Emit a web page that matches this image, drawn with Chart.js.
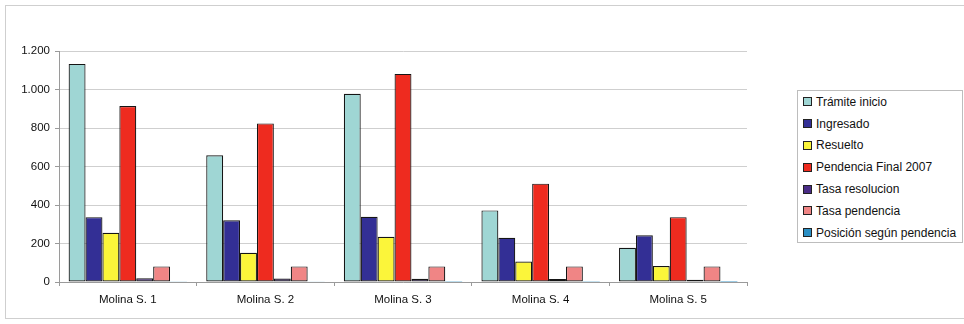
<!DOCTYPE html>
<html>
<head>
<meta charset="utf-8">
<script src="https://cdn.jsdelivr.net/npm/chart.js@4"></script>
<style>
  html, body { margin: 0; padding: 0; background: #fff; }
  body { width: 964px; height: 324px; position: relative; overflow: hidden; font-family: "Liberation Sans", Arial, sans-serif; }
  #frame { position: absolute; left: 5px; top: 5px; width: 970px; height: 314px; border: 1px solid #cfcfcf; box-sizing: border-box; }
  #wrap { position: absolute; left: 0; top: 0; width: 790px; height: 324px; }
  #legend { position: absolute; left: 797px; top: 90px; width: 166px; height: 153px; border: 1px solid #bdbdbd; box-sizing: border-box; padding-top: 0px; }
  .item { height: 21.8px; display: flex; align-items: center; font-size: 12px; color: #111; white-space: nowrap; }
  .sw { width: 7px; height: 7px; border: 1px solid #222; margin: 0 4px 0 5px; flex: none; }
</style>
</head>
<body>
<div id="frame"></div>
<div id="wrap"><canvas id="c"></canvas></div>
<div id="legend"></div>
<script>
const categories = ["Molina S. 1", "Molina S. 2", "Molina S. 3", "Molina S. 4", "Molina S. 5"];
const seriesNames = ["Trámite inicio", "Ingresado", "Resuelto", "Pendencia Final 2007", "Tasa resolucion", "Tasa pendencia", "Posición según pendencia"];
const tramiteInicio = [1133, 658, 978, 372, 178];
const ingresado = [337, 321, 339, 230, 243];
const resuelto = [256, 152, 235, 106, 83];
const pendenciaFinal = [914, 824, 1081, 511, 337];
const tasaResolucion = [19, 18, 17, 15, 12];
const tasaPendencia = [81, 81, 81, 81, 81];
const posicion = [2, 3, 1, 4, 5];
const colors = ["#9fd6d4", "#332f95", "#fbf53a", "#ee2b1f", "#4a2c86", "#f08585", "#2a8fc4"];
const yTicks = [0, 200, 400, 600, 800, 1000, 1200];

const allSeries = [tramiteInicio, ingresado, resuelto, pendenciaFinal, tasaResolucion, tasaPendencia, posicion];

const datasets = allSeries.map((d, i) => ({
  label: seriesNames[i],
  data: d,
  backgroundColor: colors[i],
  borderColor: "#151515",
  borderWidth: i === 6 ? 0 : 1.2,
  borderSkipped: false,
  barPercentage: 1,
  categoryPercentage: 0.86
}));

const fmt = v => v.toString().replace(/\B(?=(\d{3})+(?!\d))/g, ".");

new Chart(document.getElementById("c"), {
  type: "bar",
  data: { labels: categories, datasets },
  options: {
    responsive: true,
    maintainAspectRatio: false,
    animation: false,
    layout: { padding: { top: 51, right: 43, left: 0, bottom: 0 } },
    plugins: { legend: { display: false }, tooltip: { enabled: false } },
    scales: {
      x: {
        offset: true,
        grid: { display: true, drawOnChartArea: false, offset: true, tickLength: 4, color: "#9a9a9a" },
        border: { display: true, color: "#9a9a9a" },
        ticks: { color: "#111", font: { family: "Liberation Sans", size: 11.5 }, padding: 7, maxRotation: 0 },
        afterFit: s => { s.height = 42; }
      },
      y: {
        min: 0, max: 1200,
        afterBuildTicks: s => { s.ticks = yTicks.map(v => ({ value: v })); },
        grid: { color: "#cfcfcf", tickLength: 4, tickColor: "#9a9a9a" },
        border: { display: true, color: "#9a9a9a" },
        ticks: { color: "#111", font: { family: "Liberation Sans", size: 11.5 }, padding: 5, callback: v => fmt(v) },
        afterFit: s => { s.width = 59; }
      }
    }
  }
});

const lg = document.getElementById("legend");
seriesNames.forEach((n, i) => {
  const it = document.createElement("div");
  it.className = "item";
  const sw = document.createElement("span");
  sw.className = "sw";
  sw.style.background = colors[i];
  const t = document.createElement("span");
  t.textContent = n;
  it.appendChild(sw); it.appendChild(t);
  lg.appendChild(it);
});
</script>
</body>
</html>
